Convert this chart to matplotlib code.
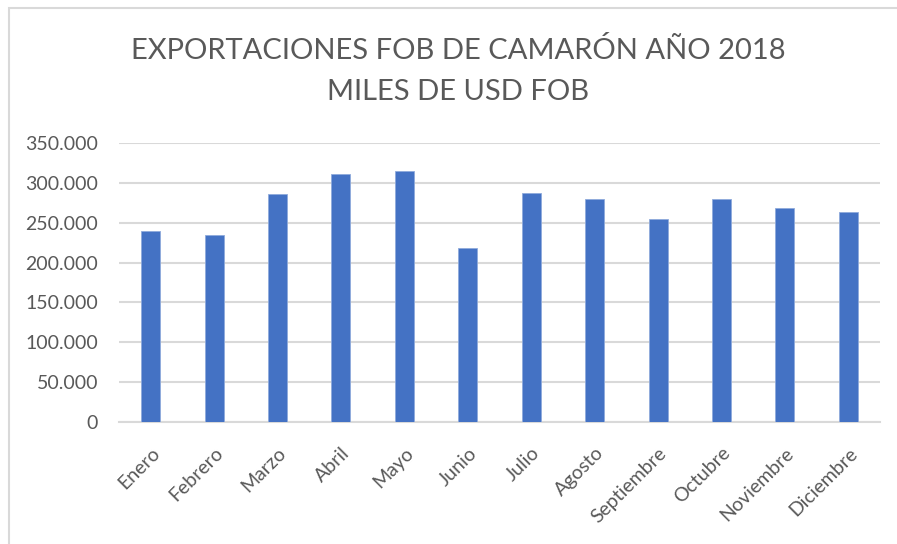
import matplotlib
matplotlib.use("Agg")
import matplotlib.pyplot as plt
from matplotlib.ticker import FuncFormatter, MultipleLocator
from matplotlib.patches import Rectangle

months = ["Enero", "Febrero", "Marzo", "Abril", "Mayo", "Junio", "Julio",
          "Agosto", "Septiembre", "Octubre", "Noviembre", "Diciembre"]
values = [239000, 234500, 286000, 311500, 314500, 218000, 287500,
          280000, 254500, 280000, 268000, 263500]
title = "EXPORTACIONES FOB DE CAMARÓN AÑO 2018\nMILES DE USD FOB"

plt.rcParams['font.family'] = ['Lato', 'DejaVu Sans']

W, H = 897, 544
fig = plt.figure(figsize=(W / 100, H / 100), dpi=100)
fig.patch.set_facecolor("white")

# chart frame
fig.patches.append(Rectangle((9 / W, -0.1), 1.2, (H - 8) / H + 0.1,
                             transform=fig.transFigure, fill=False,
                             edgecolor="#d9d9d9", linewidth=1.5))

x0, x1 = 119, 880
y0, y1 = 422, 143
ax = fig.add_axes([x0 / W, 1 - y0 / H, (x1 - x0) / W, (y0 - y1) / H])
ax.set_facecolor("white")

pos = list(range(len(months)))
ax.bar(pos, values, width=0.3, color="#4472C4", edgecolor="#8faadc",
       linewidth=0.6, zorder=3)
ax.set_xlim(-0.5, len(months) - 0.5)
ax.set_ylim(0, 350000)
ax.yaxis.set_major_locator(MultipleLocator(50000))
ax.yaxis.set_major_formatter(FuncFormatter(lambda v, p: f"{int(v):,}".replace(",", ".")))
ax.grid(axis="y", color="#d9d9d9", linewidth=1.5, zorder=0)
for s in ["top", "right", "left"]:
    ax.spines[s].set_visible(False)
ax.spines["bottom"].set_color("#d9d9d9")
ax.spines["bottom"].set_linewidth(1.5)
ax.tick_params(axis="both", length=0, colors="#595959", labelsize=14)
ax.tick_params(axis="y", pad=15)
ax.set_xticks(pos)
ax.set_xticklabels(months, rotation=45, ha="right", rotation_mode="anchor")
ax.tick_params(axis="x", pad=16)

fig.text(458 / W, 1 - 71 / H, title, ha="center", va="center",
         fontsize=21, color="#595959", linespacing=1.75)

fig.savefig("out.png", dpi=100, facecolor="white")
